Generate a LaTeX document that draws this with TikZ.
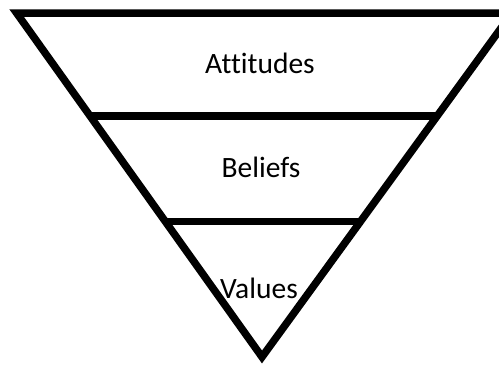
\documentclass[tikz,border=0pt]{standalone}
\usepackage{fontspec}
\setmainfont{Carlito}[Ligatures=NoCommon]
\usepackage{tikz}
\usetikzlibrary{positioning, calc}

\tikzset{
    tier/.style={line width=7.5pt, line join=miter},
    label/.style={anchor=base, font=\fontsize{29.5}{34}\selectfont}
}

\begin{document}
\begin{tikzpicture}[x=1pt, y=-1pt]

    % Page frame, the right corner runs past the edge
    \useasboundingbox (0,0) rectangle (499,367);
    \clip (0,0) rectangle (499,367);

    % --- OUTER TRIANGLE ---
    \coordinate (topL) at (16.6,13);
    \coordinate (topR) at (512,13);
    \coordinate (apex) at (262,357);
    \draw[tier] (topL) -- (topR) -- (apex) -- cycle;

    % --- DIVIDING LINES ---
    \coordinate (midL) at ($(topL)!0.2994!(apex)$);
    \coordinate (midR) at ($(topR)!0.2994!(apex)$);
    \coordinate (lowL) at ($(topL)!0.6061!(apex)$);
    \coordinate (lowR) at ($(topR)!0.6061!(apex)$);
    \draw[tier] (midL) -- (midR);
    \draw[tier] (lowL) -- (lowR);

    % --- TIER LABELS ---
    \node[label] (attitudes) at (260,73) {Attitudes};
    \node[label] (beliefs) at (261,177) {Beliefs};
    \node[label] (values) at (259,298) {Values};

\end{tikzpicture}
\end{document}
